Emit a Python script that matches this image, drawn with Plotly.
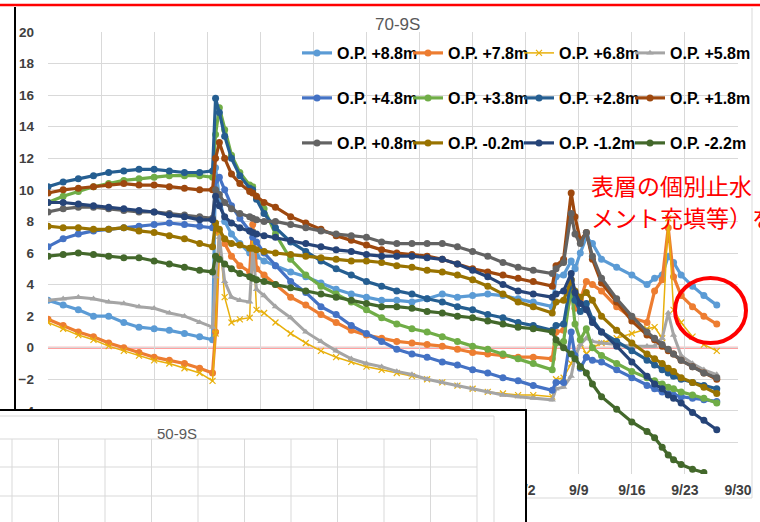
import pandas as pd
import plotly.graph_objects as go

# time grid: days after 7/1
days = [0, 2, 4, 6, 8, 10, 12, 14, 16, 18, 20,
        21.7, 22.1, 22.6, 23.3, 24.2, 25.3, 26.6, 27.0, 27.5, 28.5,
        30, 32, 34, 36, 38, 40, 42, 44, 46, 48, 50, 52, 54, 56, 58, 60, 62, 64,
        66.5, 67.0, 68.0, 69.0, 69.5, 70.2, 71.0, 71.8,
        73, 75, 77, 79,
        80, 81, 81.8, 82.5, 83.5, 85, 86.5, 88.2]

op_p88 = [3.0, 2.7, 2.4, 2.0, 2.0, 1.6, 1.3, 1.2, 1.1, 0.9, 0.7,
          0.5, 11.4, 9.5, 8.0, 7.2, 6.6, 6.0, 6.2, 5.8, 5.5,
          5.2, 4.8, 4.5, 4.1, 3.7, 3.4, 3.2, 3.0, 3.0, 2.9, 3.1, 3.4, 3.2, 3.3, 3.4, 3.3, 3.1, 2.9,
          2.6, 4.5, 4.6, 5.5, 5.0, 6.0, 7.0, 6.6,
          5.6, 5.1, 4.6, 4.0,
          4.4, 4.6, 5.8, 5.4, 4.6, 3.9, 3.3, 2.7]
op_p78 = [1.8, 1.4, 1.0, 0.7, 0.3, 0.0, -0.3, -0.6, -0.8, -1.0, -1.3,
          -1.6, 1.0, 7.3, 6.6, 5.8, 5.2, 4.8, 7.8, 5.0, 4.6,
          4.0, 3.2, 2.7, 2.1, 1.6, 1.1, 0.8, 0.6, 0.4, 0.3, 0.2, 0.1, -0.1, -0.3, -0.4, -0.5, -0.6, -0.6,
          -0.7, 1.0, 1.1, 3.5, 2.5, 3.0, 4.2, 4.0,
          3.6, 2.6, 1.9, 1.6,
          3.6, 4.3, 7.6, 4.5, 3.3, 2.6, 2.0, 1.5]
op_p68 = [1.6, 1.2, 0.8, 0.5, 0.1, -0.2, -0.5, -0.8, -1.0, -1.3, -1.6,
          -2.1, 0.9, 7.3, 3.2, 1.6, 1.8, 1.9, 7.3, 2.4, 2.2,
          1.6, 0.9, 0.3, -0.2, -0.6, -0.9, -1.2, -1.4, -1.6, -1.8, -2.0, -2.2, -2.4, -2.6, -2.8, -2.9, -3.0, -3.0,
          -3.1, -2.0, -1.9, -1.0, -0.5, 0.3, -0.4, 0.0,
          0.3, 0.6, 0.9, 1.2,
          1.3, 0.6, 8.2, 2.4, 1.6, 0.7, 0.2, -0.2]
op_p58 = [3.0, 3.1, 3.2, 3.1, 2.9, 2.8, 2.6, 2.5, 2.2, 2.0, 1.6,
          1.3, 4.5, 7.0, 4.2, 3.2, 3.0, 2.9, 6.2, 3.7, 3.3,
          2.6, 1.9, 1.0, 0.4, -0.2, -0.7, -1.0, -1.2, -1.5, -1.7, -2.0, -2.2, -2.4, -2.6, -2.8, -3.0, -3.1, -3.2,
          -3.3, -2.6, -2.5, -1.8, -0.6, 0.2, 0.6, 0.4,
          0.3, 0.2, 0.1, 0.1,
          0.1, 0.6, 2.2, 0.8, -0.5, -1.0, -1.4, -1.7]
op_p48 = [6.4, 6.9, 7.2, 7.4, 7.5, 7.6, 7.7, 7.8, 7.9, 7.8, 7.7,
          7.6, 10.6, 10.8, 10.0, 9.0, 8.2, 7.4, 7.0, 6.7, 6.0,
          5.2, 4.2, 3.5, 2.6, 2.1, 1.4, 0.9, 0.4, -0.1, -0.4, -0.6, -0.9, -1.1, -1.4, -1.6, -1.9, -2.1, -2.4,
          -2.7, -2.2, -2.2, 1.0, -0.5, -1.3, -0.6, -0.8,
          -0.9, -1.4, -1.9, -2.4,
          -2.6, -2.8, -2.9, -3.0, -3.1, -3.2, -3.3, -3.4]
op_p38 = [9.2, 9.6, 9.9, 10.2, 10.4, 10.6, 10.7, 10.8, 10.9, 10.9, 10.9,
          10.8, 13.5, 15.2, 13.8, 12.2, 11.1, 10.3, 10.2, 9.5, 8.8,
          7.2, 5.6, 4.6, 3.9, 3.4, 2.9, 2.4, 1.9, 1.5, 1.2, 1.0, 0.7, 0.4, 0.1, -0.1, -0.4, -0.7, -1.0,
          -1.4, 0.3, 0.4, 3.9, 1.5, 0.5, 1.2, 0.0,
          -0.5, -1.0, -1.5, -1.9,
          -2.1, -2.3, -2.5, -2.6, -2.8, -3.0, -3.2, -3.5]
op_p28 = [10.2, 10.5, 10.7, 10.9, 11.1, 11.2, 11.3, 11.3, 11.2, 11.1, 11.1,
          11.2, 15.8, 14.9, 13.4, 12.0, 10.9, 10.1, 10.0, 9.4, 8.5,
          7.6, 6.7, 6.1, 5.5, 5.0, 4.6, 4.2, 3.9, 3.6, 3.4, 3.1, 2.9, 2.6, 2.4, 2.1, 1.9, 1.6, 1.4,
          1.1, 1.4, 1.5, 4.3, 3.0, 2.3, 2.8, 1.8,
          1.0, 0.4, -0.2, -0.8,
          -1.1, -1.4, -1.6, -1.8, -2.0, -2.2, -2.4, -2.6]
op_p18 = [9.8, 10.0, 10.1, 10.2, 10.3, 10.4, 10.3, 10.3, 10.2, 10.1, 10.0,
          10.0, 12.0, 13.0, 12.0, 11.0, 10.4, 9.9, 9.8, 9.6, 9.2,
          8.9, 8.3, 7.9, 7.5, 7.1, 6.8, 6.5, 6.2, 6.0, 5.9, 5.8, 5.6, 5.3, 5.0, 4.8, 4.6, 4.4, 4.2,
          3.9, 5.2, 5.6, 9.8, 8.3, 6.8, 7.3, 5.6,
          4.1, 2.9, 1.7, 0.8,
          0.5, 0.1, -0.2, -0.4, -0.8, -1.2, -1.6, -2.0]
op_p08 = [8.6, 8.8, 8.9, 8.9, 8.8, 8.7, 8.6, 8.6, 8.5, 8.4, 8.3,
          8.2, 10.0, 9.7, 9.2, 8.8, 8.5, 8.3, 8.2, 8.1, 8.0,
          8.0, 7.8, 7.6, 7.4, 7.2, 7.1, 7.0, 6.7, 6.6, 6.6, 6.6, 6.6, 6.4, 6.1, 5.8, 5.4, 5.1, 4.9,
          4.7, 5.0, 5.4, 8.5, 7.2, 6.6, 7.3, 5.8,
          4.4, 3.1, 2.0, 1.0,
          0.6, 0.2, -0.1, -0.4, -0.8, -1.2, -1.6, -1.9]
op_m02 = [7.7, 7.6, 7.6, 7.5, 7.5, 7.6, 7.4, 7.3, 7.1, 6.9, 6.6,
          6.4, 7.9, 7.5, 6.9, 6.6, 6.5, 6.3, 6.3, 6.2, 6.1,
          6.0, 5.9, 5.8, 5.7, 5.6, 5.5, 5.5, 5.4, 5.2, 5.1, 4.9, 4.8, 4.6, 4.3, 3.9, 3.4, 2.9, 2.6,
          2.2, 2.9, 3.0, 4.3, 3.6, 3.2, 3.5, 3.0,
          2.0, 1.1, 0.3, -0.4,
          -0.7, -1.0, -1.3, -1.5, -1.9, -2.2, -2.5, -2.9]
op_m12 = [9.2, 9.2, 9.1, 9.0, 8.9, 8.8, 8.7, 8.6, 8.4, 8.3, 8.1,
          8.1, 9.6, 9.0, 8.3, 7.9, 7.6, 7.4, 7.3, 7.2, 7.1,
          7.0, 6.8, 6.6, 6.4, 6.2, 6.1, 5.9, 5.8, 5.8, 5.8, 5.7, 5.6, 5.3, 4.9, 4.5, 4.0, 3.6, 3.4,
          3.2, 3.4, 3.6, 4.7, 3.5, 2.8, 2.4, 1.6,
          1.0, 0.1, -0.9, -1.8,
          -2.3, -2.6, -3.0, -3.2, -3.5, -4.1, -4.6, -5.2]
op_m22 = [5.8, 5.9, 6.0, 5.9, 5.8, 5.7, 5.7, 5.5, 5.3, 5.1, 4.9,
          4.8, 5.8, 5.6, 5.3, 5.0, 4.7, 4.5, 4.4, 4.3, 4.2,
          4.0, 3.8, 3.6, 3.4, 3.2, 3.0, 2.8, 2.6, 2.6, 2.5, 2.3, 2.2, 2.0, 1.9, 1.7, 1.5, 1.3, 1.2,
          1.0, 0.5, 0.0, -0.4, -0.7, -1.2, -1.6, -2.3,
          -3.1, -3.9, -4.7, -5.3,
          -5.7, -6.3, -6.8, -7.1, -7.4, -7.7, -7.9, None]

start = pd.Timestamp("2023-07-01")
dates = [start + pd.Timedelta(days=d) for d in days]

series = [
    ("O.P. +8.8m", op_p88, "#5B9BD5", "circle", "legend"),
    ("O.P. +7.8m", op_p78, "#ED7D31", "circle", "legend"),
    ("O.P. +6.8m", op_p68, "#E8B00C", "x-thin", "legend"),
    ("O.P. +5.8m", op_p58, "#A5A5A5", "triangle-up", "legend"),
    ("O.P. +4.8m", op_p48, "#4472C4", "circle", "legend2"),
    ("O.P. +3.8m", op_p38, "#70AD47", "circle", "legend2"),
    ("O.P. +2.8m", op_p28, "#255E91", "circle", "legend2"),
    ("O.P. +1.8m", op_p18, "#9E480E", "circle", "legend2"),
    ("O.P. +0.8m", op_p08, "#636363", "circle", "legend3"),
    ("O.P. -0.2m", op_m02, "#997300", "circle", "legend3"),
    ("O.P. -1.2m", op_m12, "#264478", "circle", "legend3"),
    ("O.P. -2.2m", op_m22, "#43682B", "circle", "legend3"),
]

# pixel -> paper helpers (plot area 48..738 x 32..474)
PL, PT, PW, PH = 48, 32, 690, 442
def px(x):
    return (x - PL) / PW
def py(y):
    return (PT + PH - y) / PH

fig = go.Figure()
for i, (name, vals, col, sym, lg) in enumerate(series):
    if sym == "x-thin":
        mk = dict(symbol=sym, size=6, color=col, line=dict(color=col, width=1.2))
        lw = 1.5
    elif sym == "triangle-up":
        mk = dict(symbol=sym, size=6.5, color=col)
        lw = 3
    else:
        mk = dict(symbol=sym, size=7, color=col)
        lw = 3.2
    # last entry of each legend row gets room for its full label
    ew = 88 if i % 4 == 3 else 66
    fig.add_trace(go.Scatter(x=dates, y=vals, name=name, mode="lines+markers",
                             line=dict(color=col, width=lw), marker=mk,
                             legend=lg, legendwidth=ew, connectgaps=False))

lgfont = dict(family="Liberation Sans", size=16, color="black", weight="bold")
def legend_row(ypix):
    return dict(orientation="h", x=px(297), y=py(ypix), xanchor="left", yanchor="middle",
                entrywidth=66, entrywidthmode="pixels", itemwidth=30,
                bgcolor="rgba(0,0,0,0)", font=lgfont, traceorder="normal")

tickfont = dict(family="Liberation Sans", size=14, color="#404040", weight="bold")
grid = "#D9D9D9"

fig.update_layout(
    width=760, height=522,
    margin=dict(l=PL, r=760 - PL - PW, t=PT, b=522 - PT - PH, autoexpand=False),
    paper_bgcolor="white", plot_bgcolor="white",
    showlegend=True,
    legend=legend_row(53), legend2=legend_row(98), legend3=legend_row(143),
    xaxis=dict(type="date", range=["2023-07-01", "2023-09-30"],
               tick0="2023-07-01", dtick=7 * 86400000, tickformat="%-m/%-d",
               showgrid=True, gridcolor=grid, gridwidth=1, zeroline=False,
               showline=False, tickfont=tickfont, ticklabelstandoff=6),
    yaxis=dict(range=[-8, 20], dtick=2, showgrid=True, gridcolor=grid, gridwidth=1,
               zeroline=False, showline=False, tickfont=dict(tickfont, size=13.5),
               ticklabelstandoff=13),
)

shapes = []
# zero reference line
shapes.append(dict(type="line", xref="x domain", yref="y", x0=0, x1=1, y0=0, y1=0,
                   line=dict(color="#FF8080", width=2), layer="below"))
# red frame line at the top and black frame line at the left
shapes.append(dict(type="line", xref="paper", yref="paper", x0=px(-2), x1=px(762),
                   y0=py(5), y1=py(5), line=dict(color="#FF0000", width=2.5), layer="above"))
shapes.append(dict(type="line", xref="paper", yref="paper", x0=px(15), x1=px(15),
                   y0=py(7), y1=py(410), line=dict(color="black", width=2), layer="above"))
# main chart area border
shapes.append(dict(type="line", xref="paper", yref="paper", x0=px(752), x1=px(752),
                   y0=py(8), y1=py(498), line=dict(color=grid, width=1), layer="above"))
shapes.append(dict(type="line", xref="paper", yref="paper", x0=px(526), x1=px(752),
                   y0=py(498), y1=py(498), line=dict(color=grid, width=1), layer="above"))
# overlapping second chart panel (50-9S)
shapes.append(dict(type="rect", xref="paper", yref="paper", x0=px(-10), x1=px(526),
                   y0=py(530), y1=py(410), fillcolor="white",
                   line=dict(color="black", width=2), layer="above"))
shapes.append(dict(type="line", xref="paper", yref="paper", x0=px(0), x1=px(494),
                   y0=py(416), y1=py(416), line=dict(color=grid, width=1), layer="above"))
shapes.append(dict(type="line", xref="paper", yref="paper", x0=px(494), x1=px(494),
                   y0=py(416), y1=py(530), line=dict(color=grid, width=1), layer="above"))
for k in range(11):
    gx = 12 + 46.5 * k
    shapes.append(dict(type="line", xref="paper", yref="paper", x0=px(gx), x1=px(gx),
                       y0=py(439), y1=py(530), line=dict(color=grid, width=1), layer="above"))
for gy in [439, 467, 496]:
    shapes.append(dict(type="line", xref="paper", yref="paper", x0=px(0), x1=px(477),
                       y0=py(gy), y1=py(gy), line=dict(color=grid, width=1), layer="above"))
# red circle
shapes.append(dict(type="circle", xref="paper", yref="paper", x0=px(675), x1=px(746),
                   y0=py(343), y1=py(278), line=dict(color="#FF0000", width=4), layer="above"))
fig.update_layout(shapes=shapes)

fig.add_annotation(text="70-9S", xref="paper", yref="paper", x=px(397), y=py(24),
                   xanchor="center", yanchor="middle", showarrow=False,
                   font=dict(family="Liberation Sans", size=17, color="#595959"))
fig.add_annotation(text="50-9S", xref="paper", yref="paper", x=px(177), y=py(433),
                   xanchor="center", yanchor="middle", showarrow=False,
                   font=dict(family="Liberation Sans", size=15, color="#595959"))
jp = dict(family="Noto Sans CJK JP", size=23, color="#FF0000")
fig.add_annotation(text="表層の個別止水（セ", xref="paper", yref="paper", x=px(589), y=py(185),
                   xanchor="left", yanchor="middle", showarrow=False, font=jp)
fig.add_annotation(text="メント充填等）を実施", xref="paper", yref="paper", x=px(589), y=py(217),
                   xanchor="left", yanchor="middle", showarrow=False, font=jp)

fig.write_html("out.html", config={"displayModeBar": False},
               post_script="document.body.style.margin='0';")
